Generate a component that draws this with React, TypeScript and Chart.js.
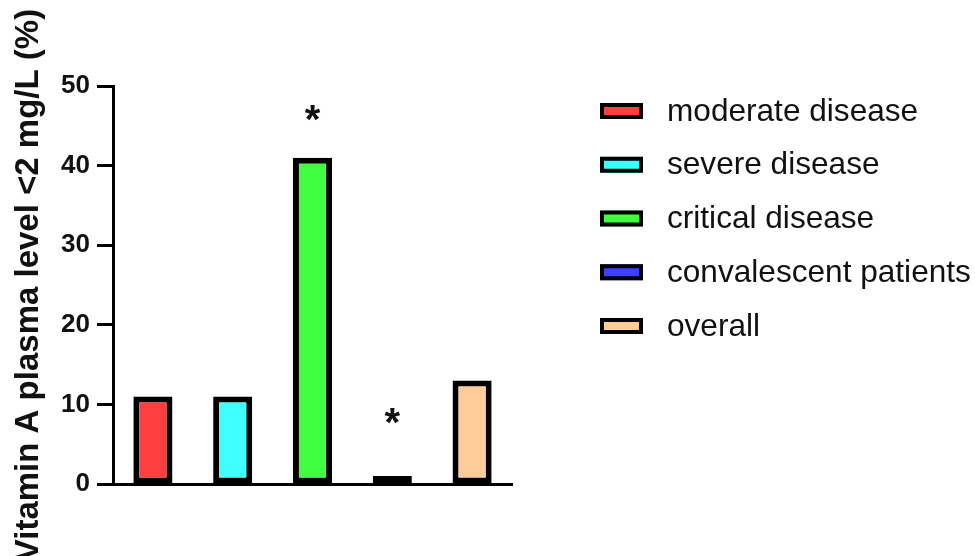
import React, { useEffect, useRef } from "react";
import { Chart, registerables } from "chart.js";

Chart.register(...registerables);

const categories = ["moderate disease", "severe disease", "critical disease", "convalescent patients", "overall"];
const values = [11, 11, 41, 1, 13];
const barColors = ["#FF3F3F", "#3FFFFF", "#3FFF3F", "#3F3FFF", "#FFCC99"];
// y position (in axis units) of the significance asterisks; null = none
const starPositions = [null, null, 47, 9, null];
const yTicks = [0, 10, 20, 30, 40, 50];
const yTitle = "Vitamin A plasma level <2 mg/L (%)";

const FONT = "'Liberation Sans', Arial, Helvetica, sans-serif";

const overlayPlugin = {
  id: "overlay",
  afterDatasetsDraw(chart: any) {
    const ctx = chart.ctx;
    const x = chart.scales.x;
    const y = chart.scales.y;
    ctx.save();
    // asterisks
    const starSize = 40;
    ctx.font = `bold ${starSize}px ${FONT}`;
    ctx.fillStyle = "#111";
    ctx.textAlign = "center";
    ctx.textBaseline = "alphabetic";
    starPositions.forEach((v, i) => {
      if (v === null) return;
      const px = x.getPixelForValue(i);
      const py = y.getPixelForValue(v);
      ctx.fillText("*", px, py + starSize * 0.58);
    });
    // legend
    const legendX = 600;
    const boxW = 43;
    const boxH = 16;
    const rowTop = 111;
    const rowGap = 53.75;
    ctx.font = `31.6px ${FONT}`;
    ctx.textAlign = "left";
    ctx.textBaseline = "middle";
    categories.forEach((c, i) => {
      const cy = rowTop + i * rowGap;
      ctx.fillStyle = barColors[i];
      ctx.fillRect(legendX, cy - boxH / 2, boxW, boxH);
      ctx.lineWidth = 4;
      ctx.strokeStyle = "#000";
      ctx.strokeRect(legendX + 2, cy - boxH / 2 + 2, boxW - 4, boxH - 4);
      ctx.fillStyle = "#111";
      ctx.fillText(c, 667, cy + 1);
    });
    ctx.restore();
  },
};

export default function App() {
  const ref = useRef<HTMLCanvasElement | null>(null);
  useEffect(() => {
    if (!ref.current) return;
    const chart = new Chart(ref.current, {
      type: "bar",
      data: {
        labels: categories,
        datasets: [
          {
            data: values,
            backgroundColor: barColors,
            borderColor: "#000",
            borderWidth: 6,
            borderSkipped: false,
            barPercentage: 0.49,
            categoryPercentage: 1,
          },
        ],
      },
      options: {
        animation: false,
        responsive: false,
        layout: { padding: { left: 0, right: 463, top: 86, bottom: 72 } },
        plugins: { legend: { display: false }, tooltip: { enabled: false } },
        scales: {
          x: {
            offset: true,
            grid: { display: false, drawTicks: false },
            ticks: { display: false },
            border: { display: true, color: "#000", width: 3 },
            afterFit(scale: any) {
              scale.height = 0;
            },
          },
          y: {
            min: 0,
            max: 50,
            afterBuildTicks(scale: any) {
              scale.ticks = yTicks.map((v) => ({ value: v }));
            },
            grid: {
              drawOnChartArea: false,
              drawTicks: true,
              tickLength: 16,
              tickWidth: 3,
              tickColor: "#000",
            },
            border: { display: true, color: "#000", width: 3 },
            ticks: {
              padding: 7,
              color: "#111",
              font: { family: FONT, size: 26, weight: "bold" },
            },
            title: {
              display: true,
              text: yTitle,
              color: "#111",
              font: { family: FONT, size: 33, weight: "bold" },
              padding: { top: 9, bottom: 0 },
            },
            afterFit(scale: any) {
              scale.width = 113;
            },
          },
        },
      },
      plugins: [overlayPlugin],
    });
    return () => chart.destroy();
  }, []);
  return (
    <div style={{ position: "absolute", left: 0, top: 0, width: 975, height: 556, background: "#fff" }}>
      <canvas ref={ref} width={975} height={556} />
    </div>
  );
}
